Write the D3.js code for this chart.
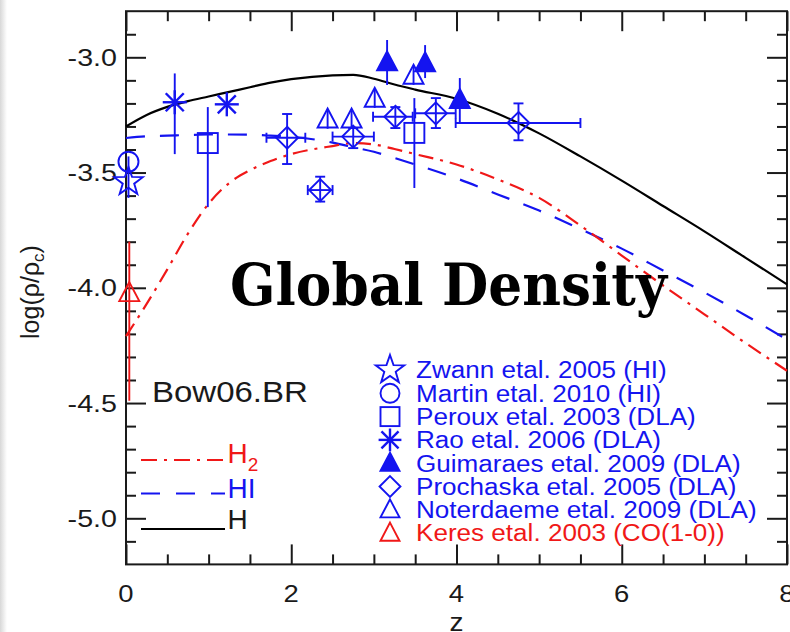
<!DOCTYPE html>
<html><head><meta charset="utf-8">
<script src="https://cdn.jsdelivr.net/npm/d3@7"></script>
<style>
html,body{margin:0;padding:0;background:#fff;}
svg{display:block;}
</style></head>
<body>
<svg id="chart" width="790" height="632"></svg>
<script>
// ---------- data ----------
const curveZ   = [0, 0.25, 0.5, 0.75, 1.0, 1.25, 1.5, 1.75, 2.0, 2.5, 2.75, 3.0, 3.25, 3.5, 4.0, 4.5, 5.0, 5.5, 6.0, 6.5, 7.0, 7.5, 8.0];
const curveH   = [-3.30, -3.25, -3.215, -3.19, -3.17, -3.15, -3.13, -3.11, -3.095, -3.078, -3.076, -3.093, -3.118, -3.14, -3.18, -3.245, -3.33, -3.43, -3.535, -3.645, -3.755, -3.87, -3.985];
const curveHI  = [-3.35, -3.343, -3.34, -3.337, -3.335, -3.335, -3.336, -3.34, -3.345, -3.37, -3.39, -3.41, -3.437, -3.465, -3.525, -3.595, -3.665, -3.745, -3.83, -3.925, -4.02, -4.12, -4.225];
const curveH2  = [-4.21, -4.07, -3.92, -3.765, -3.635, -3.545, -3.49, -3.45, -3.42, -3.385, -3.372, -3.378, -3.398, -3.42, -3.465, -3.53, -3.61, -3.73, -3.86, -3.99, -4.115, -4.24, -4.36];

const zwannZ = [0.03], zwannY = [-3.54], zwannLo = [-3.61], zwannHi = [-3.43];
const martinZ = [0.03], martinY = [-3.453];
const perouxZ = [0.99, 3.49], perouxY = [-3.372, -3.328], perouxLo = [-3.65, -3.567], perouxHi = [-3.216, -3.177];
const raoZ = [0.59, 1.22], raoY = [-3.195, -3.204], raoLo = [-3.42, -3.204], raoHi = [-3.07, -3.204];
const guimZ = [3.16, 3.62, 4.04], guimY = [-3.022, -3.026, -3.185], guimLo = [-3.12, -3.09, -3.285], guimHi = [-2.925, -2.947, -3.09];
const proZ = [1.95, 2.35, 2.75, 3.26, 3.75, 4.75];
const proY = [-3.349, -3.576, -3.344, -3.258, -3.243, -3.285];
const proLo = [-3.463, -3.626, -3.394, -3.307, -3.307, -3.36];
const proHi = [-3.246, -3.518, -3.307, -3.216, -3.177, -3.20];
const proZLo = [1.70, 2.20, 2.50, 2.99, 3.50, 3.99];
const proZHi = [2.17, 2.50, 3.00, 3.47, 3.99, 5.50];
const notZ = [2.44, 2.73, 3.01, 3.48], notY = [-3.27, -3.27, -3.18, -3.08];
const notLo = [-3.31, -3.31, -3.22, -3.12], notHi = [-3.23, -3.23, -3.14, -3.04];
const keresZ = [0.04], keresY = [-4.023], keresLo = [-4.49], keresHi = [-3.80];

const xMajorTicks = [0, 2, 4, 6, 8];
const xMinorTicks = [0.5, 1, 1.5, 2.5, 3, 3.5, 4.5, 5, 5.5, 6.5, 7, 7.5];
const yMajorTicks = [-5.0, -4.5, -4.0, -3.5, -3.0];
const yTickLabels = ["-5.0", "-4.5", "-4.0", "-3.5", "-3.0"];
const yMinorTicks = [-5.1, -4.9, -4.8, -4.7, -4.6, -4.4, -4.3, -4.2, -4.1, -3.9, -3.8, -3.7, -3.6, -3.4, -3.3, -3.2, -3.1, -2.9];

const legendLabels = ["Zwann etal. 2005 (HI)", "Martin etal. 2010 (HI)", "Peroux etal. 2003 (DLA)", "Rao etal. 2006 (DLA)",
  "Guimaraes etal. 2009 (DLA)", "Prochaska etal. 2005 (DLA)", "Noterdaeme etal. 2009 (DLA)", "Keres etal. 2003 (CO(1-0))"];
const legendSymbols = ["star", "circle", "square", "asterisk", "triFilled", "diamond", "triangle", "triangle"];
const legendColors = ["blue", "blue", "blue", "blue", "blue", "blue", "blue", "red"];

// ---------- setup ----------
const BLUE = "#1414f0", RED = "#f01818", AX = "#1a1a1a";
const svg = d3.select("#chart");
const W = 790, H = 632;
const L = 126, R = 787, T = 11.2, B = 564.4;
const x = d3.scaleLinear().domain([0, 8]).range([L, R]);
const y = d3.scaleLinear().domain([-5.2, -2.8]).range([B, T]);
const SX = 1.12;
const SANS = "'Liberation Sans', Arial, Helvetica, sans-serif";

// left edge shading
const defs = svg.append("defs");
const g0 = defs.append("linearGradient").attr("id", "edge").attr("x1", 0).attr("x2", 1);
g0.append("stop").attr("offset", 0).attr("stop-color", "#d8d8d8");
g0.append("stop").attr("offset", 1).attr("stop-color", "#ffffff");
svg.append("rect").attr("x", 0).attr("y", 0).attr("width", 7).attr("height", H).attr("fill", "url(#edge)");

function txt(parent, s, px, py, size, color, anchor, sx) {
  return parent.append("text")
    .attr("transform", `translate(${px},${py}) scale(${sx || 1},1)`)
    .attr("text-anchor", anchor || "start")
    .attr("font-family", SANS).attr("font-size", size).attr("fill", color)
    .text(s);
}

// ---------- axes ----------
const ax = svg.append("g");
function axisStyle(g) {
  g.select(".domain").remove();
  g.selectAll(".tick line").attr("stroke", AX).attr("stroke-width", 2);
  g.selectAll(".tick text").remove();
}
ax.append("g").attr("transform", `translate(0,${B})`).call(d3.axisBottom(x).tickValues(xMajorTicks).tickSize(-20).tickFormat("")).call(axisStyle);
ax.append("g").attr("transform", `translate(0,${B})`).call(d3.axisBottom(x).tickValues(xMinorTicks).tickSize(-10).tickFormat("")).call(axisStyle);
ax.append("g").attr("transform", `translate(0,${T})`).call(d3.axisTop(x).tickValues(xMajorTicks).tickSize(-20).tickFormat("")).call(axisStyle);
ax.append("g").attr("transform", `translate(0,${T})`).call(d3.axisTop(x).tickValues(xMinorTicks).tickSize(-10).tickFormat("")).call(axisStyle);
ax.append("g").attr("transform", `translate(${L},0)`).call(d3.axisLeft(y).tickValues(yMajorTicks).tickSize(-20).tickFormat("")).call(axisStyle);
ax.append("g").attr("transform", `translate(${L},0)`).call(d3.axisLeft(y).tickValues(yMinorTicks).tickSize(-10).tickFormat("")).call(axisStyle);
ax.append("g").attr("transform", `translate(${R},0)`).call(d3.axisRight(y).tickValues(yMajorTicks).tickSize(-20).tickFormat("")).call(axisStyle);
ax.append("g").attr("transform", `translate(${R},0)`).call(d3.axisRight(y).tickValues(yMinorTicks).tickSize(-10).tickFormat("")).call(axisStyle);
ax.append("rect").attr("x", L).attr("y", T).attr("width", R - L).attr("height", B - T)
  .attr("fill", "none").attr("stroke", AX).attr("stroke-width", 2);

// tick labels
yMajorTicks.forEach((v, i) => txt(svg, yTickLabels[i], 117, y(v) + 8.5, 24.5, AX, "end", 1.17));
xMajorTicks.forEach(v => txt(svg, String(v), x(v), 602, 24.5, AX, "middle", SX));
// axis titles
txt(svg, "z", x(4), 631, 25, AX, "middle", SX);
const yt = svg.append("text").attr("transform", `translate(39,292) rotate(-90)`)
  .attr("text-anchor", "middle").attr("font-family", SANS).attr("font-size", 25).attr("fill", AX);
yt.append("tspan").text("log(ρ/ρ");
yt.append("tspan").attr("font-size", 17).attr("dy", 5).text("c");
yt.append("tspan").attr("dy", -5).text(")");

// ---------- curves ----------
const lineGen = d3.line().x(d => x(d[0])).y(d => y(d[1])).curve(d3.curveMonotoneX);
const cg = svg.append("g");
cg.append("path").attr("d", lineGen(curveZ.map((z, i) => [z, curveH[i]])))
  .attr("fill", "none").attr("stroke", "#000").attr("stroke-width", 2.2);
cg.append("path").attr("d", lineGen(curveZ.map((z, i) => [z, curveHI[i]])))
  .attr("fill", "none").attr("stroke", BLUE).attr("stroke-width", 2.2).attr("stroke-dasharray", "19,15");
cg.append("path").attr("d", lineGen(curveZ.map((z, i) => [z, curveH2[i]])))
  .attr("fill", "none").attr("stroke", RED).attr("stroke-width", 2.2).attr("stroke-dasharray", "15,7,3,7");

// ---------- markers ----------
function starPath(r1, r2) {
  const pts = [];
  for (let i = 0; i < 10; i++) {
    const a = -Math.PI / 2 + i * Math.PI / 5;
    const r = i % 2 === 0 ? r1 : r2;
    pts.push([r * Math.cos(a), r * Math.sin(a)]);
  }
  return "M" + pts.map(p => p.join(",")).join("L") + "Z";
}
function drawSymbol(g, type, cx, cy, color, scale) {
  const s = scale || 1;
  const gg = g.append("g").attr("transform", `translate(${cx},${cy})`)
    .attr("stroke", color).attr("stroke-width", 1.9).attr("fill", "none");
  if (type === "star") gg.append("path").attr("d", starPath(15 * s, 6 * s));
  else if (type === "circle") gg.append("circle").attr("r", 10 * s);
  else if (type === "square") gg.append("rect").attr("x", -10 * s).attr("y", -10 * s).attr("width", 20 * s).attr("height", 20 * s);
  else if (type === "asterisk") {
    const r = 12 * s;
    [[0, -r, 0, r], [-r, 0, r, 0], [-r * 0.75, -r * 0.75, r * 0.75, r * 0.75], [-r * 0.75, r * 0.75, r * 0.75, -r * 0.75]]
      .forEach(l => gg.append("line").attr("x1", l[0]).attr("y1", l[1]).attr("x2", l[2]).attr("y2", l[3]).attr("stroke-width", 2.4));
  }
  else if (type === "triFilled") gg.append("path").attr("d", `M0,${-11 * s}L${10 * s},${8 * s}L${-10 * s},${8 * s}Z`).attr("fill", color);
  else if (type === "triangle") gg.append("path").attr("d", `M0,${-11 * s}L${10 * s},${8 * s}L${-10 * s},${8 * s}Z`);
  else if (type === "diamond") gg.append("path").attr("d", `M0,${-11 * s}L${11 * s},0L0,${11 * s}L${-11 * s},0Z`);
}
function vErr(g, z, lo, hi, color, cap) {
  g.append("line").attr("x1", x(z)).attr("x2", x(z)).attr("y1", y(lo)).attr("y2", y(hi))
    .attr("stroke", color).attr("stroke-width", 1.9);
  if (cap) [lo, hi].forEach(v => g.append("line").attr("x1", x(z) - 5).attr("x2", x(z) + 5).attr("y1", y(v)).attr("y2", y(v))
    .attr("stroke", color).attr("stroke-width", 1.9));
}
function hErr(g, yv, lo, hi, color, cap) {
  g.append("line").attr("x1", x(lo)).attr("x2", x(hi)).attr("y1", y(yv)).attr("y2", y(yv))
    .attr("stroke", color).attr("stroke-width", 1.9);
  if (cap) [lo, hi].forEach(v => g.append("line").attr("x1", x(v)).attr("x2", x(v)).attr("y1", y(yv) - 5).attr("y2", y(yv) + 5)
    .attr("stroke", color).attr("stroke-width", 1.9));
}
const mg = svg.append("g");
// Keres
keresZ.forEach((z, i) => { vErr(mg, z, keresLo[i], keresHi[i], RED); drawSymbol(mg, "triangle", x(z), y(keresY[i]), RED); });
// Zwann / Martin
zwannZ.forEach((z, i) => { vErr(mg, z, zwannLo[i], zwannHi[i], BLUE); drawSymbol(mg, "star", x(z), y(zwannY[i]), BLUE); });
martinZ.forEach((z, i) => drawSymbol(mg, "circle", x(z), y(martinY[i]), BLUE));
// Peroux
perouxZ.forEach((z, i) => { vErr(mg, z, perouxLo[i], perouxHi[i], BLUE); drawSymbol(mg, "square", x(z), y(perouxY[i]), BLUE); });
// Rao
raoZ.forEach((z, i) => { vErr(mg, z, raoLo[i], raoHi[i], BLUE); drawSymbol(mg, "asterisk", x(z), y(raoY[i]), BLUE); });
// Guimaraes
guimZ.forEach((z, i) => { vErr(mg, z, guimLo[i], guimHi[i], BLUE); drawSymbol(mg, "triFilled", x(z), y(guimY[i]), BLUE); });
// Prochaska
proZ.forEach((z, i) => {
  vErr(mg, z, proLo[i], proHi[i], BLUE, true);
  hErr(mg, proY[i], proZLo[i], proZHi[i], BLUE, true);
  drawSymbol(mg, "diamond", x(z), y(proY[i]), BLUE);
});
// Noterdaeme
notZ.forEach((z, i) => { vErr(mg, z, notLo[i], notHi[i], BLUE); drawSymbol(mg, "triangle", x(z), y(notY[i]), BLUE); });

// ---------- legend (data) ----------
const lg = svg.append("g");
legendLabels.forEach((lab, i) => {
  const cy = 370 + i * 23.3;
  const col = legendColors[i] === "red" ? RED : BLUE;
  drawSymbol(lg, legendSymbols[i], 390, cy, col, i === 0 ? 1 : 0.95);
  txt(lg, lab, 416, cy + 8.3, 23.3, col, "start", 1.12);
});

// ---------- legend (model) ----------
txt(svg, "Bow06.BR", 152, 401.7, 30, AX, "start", 1.1);
const ml = svg.append("g");
ml.append("line").attr("x1", 141).attr("x2", 225).attr("y1", 460).attr("y2", 460)
  .attr("stroke", RED).attr("stroke-width", 2).attr("stroke-dasharray", "16,7,3,7");
ml.append("line").attr("x1", 141).attr("x2", 225).attr("y1", 493.5).attr("y2", 493.5)
  .attr("stroke", BLUE).attr("stroke-width", 2).attr("stroke-dasharray", "19,16");
ml.append("line").attr("x1", 141).attr("x2", 225).attr("y1", 529).attr("y2", 529)
  .attr("stroke", "#000").attr("stroke-width", 2);
const h2 = svg.append("text").attr("x", 227.5).attr("y", 463).attr("font-family", SANS).attr("font-size", 28).attr("fill", RED);
h2.append("tspan").text("H");
h2.append("tspan").attr("font-size", 19).attr("dy", 8).text("2");
txt(svg, "HI", 227.5, 498, 28, BLUE, "start", 1);
txt(svg, "H", 227.5, 529, 28, AX, "start", 1);

// ---------- title overlay ----------
svg.append("text").attr("x", 230).attr("y", 305)
  .attr("font-family", "'DejaVu Serif', 'Liberation Serif', Georgia, serif").attr("font-weight", "bold")
  .attr("font-size", 57).attr("fill", "#000")
  .attr("textLength", 437).attr("lengthAdjust", "spacingAndGlyphs")
  .text("Global Density");
</script>
</body></html>
